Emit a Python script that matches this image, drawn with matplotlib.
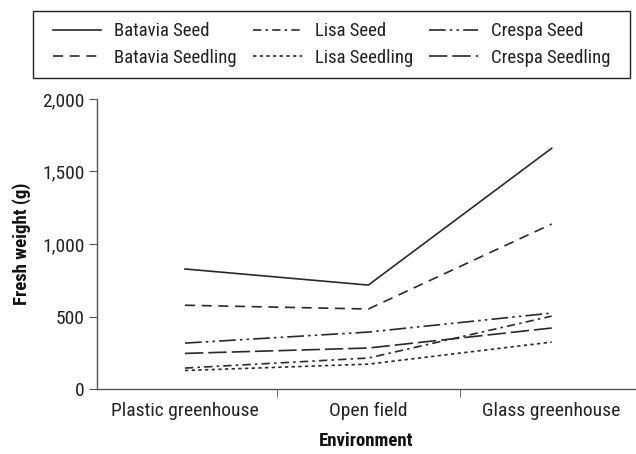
import matplotlib
matplotlib.use("Agg")
import matplotlib.pyplot as plt
from matplotlib import font_manager
from matplotlib.patches import Rectangle

names = {f.name for f in font_manager.fontManager.ttflist}
pref = [n for n in ['Liberation Sans Narrow', 'Roboto Condensed', 'DejaVu Sans Condensed',
                    'Liberation Sans'] if n in names]
plt.rcParams['font.family'] = pref + ['DejaVu Sans']

environments = ["Plastic greenhouse", "Open field", "Glass greenhouse"]
batavia_seed = [828, 717, 1660]
batavia_seedling = [578, 552, 1138]
lisa_seed = [145, 214, 503]
lisa_seedling = [128, 172, 324]
crespa_seed = [317, 393, 524]
crespa_seedling = [246, 283, 421]
y_ticks = [0, 500, 1000, 1500, 2000]
y_tick_labels = ["0", "500", "1,000", "1,500", "2,000"]

fig = plt.figure(figsize=(6.36, 4.54), dpi=100)
ax = fig.add_axes([0.1525, 0.143, 0.8475, 0.639])

x = list(range(len(environments)))
col = "#2a2a2a"
lw = 1.2
series = [
    ("Batavia Seed", batavia_seed, "-"),
    ("Batavia Seedling", batavia_seedling, (0, (6, 4))),
    ("Lisa Seed", lisa_seed, (0, (5, 2.5, 1.5, 2.5))),
    ("Lisa Seedling", lisa_seedling, (0, (2, 2))),
    ("Crespa Seed", crespa_seed, (0, (10, 2.5, 1.5, 2.5, 1.5, 2.5))),
    ("Crespa Seedling", crespa_seedling, (0, (11, 3))),
]
handles = []
for name, vals, ls in series:
    h, = ax.plot(x, vals, color=col, lw=lw, linestyle=ls, label=name)
    handles.append(h)

ax.set_xlim(-0.48, 2.46)
ax.set_ylim(0, 2000)
ax.set_yticks(y_ticks)
ax.set_yticklabels(y_tick_labels)
ax.set_xticks(x)
ax.set_xticklabels(environments)
ax.tick_params(axis='x', length=0, pad=9, labelsize=14, colors='#222222')
ax.set_xticks([0.5, 1.5], minor=True)
ax.tick_params(axis='x', which='minor', length=6, direction='out', color='#555555')
ax.tick_params(axis='y', length=6, direction='out', labelsize=14, color='#555555', labelcolor='#222222', pad=3)

for s in ['top', 'right']:
    ax.spines[s].set_visible(False)
for s in ['left', 'bottom']:
    ax.spines[s].set_color('#555555')
    ax.spines[s].set_linewidth(1.0)

ax.set_xlabel("Environment", fontsize=13.5, fontweight='bold', labelpad=9, color='#111111')
ax.set_ylabel("Fresh weight (g)", fontsize=13.5, fontweight='bold', labelpad=8, color='#111111')

W, H = 636.0, 454.0
fx0, fx1, fy0, fy1 = 33, 630, 11, 78
fig.patches.append(Rectangle((fx0 / W, 1 - fy1 / H), (fx1 - fx0) / W, (fy1 - fy0) / H,
                             transform=fig.transFigure, fill=False, ec='#222222', lw=1.0))

leg = fig.legend(handles=handles, ncol=3, loc='center',
                 bbox_to_anchor=((fx0 + fx1) / 2 / W, 1 - (fy0 + fy1) / 2 / H),
                 fontsize=13.5, frameon=False,
                 handlelength=2.6, handletextpad=0.7, columnspacing=0.85,
                 labelspacing=0.45, borderaxespad=0, borderpad=0.0)
for t in leg.get_texts():
    t.set_color('#222222')

fig.savefig("out.png", dpi=100)
